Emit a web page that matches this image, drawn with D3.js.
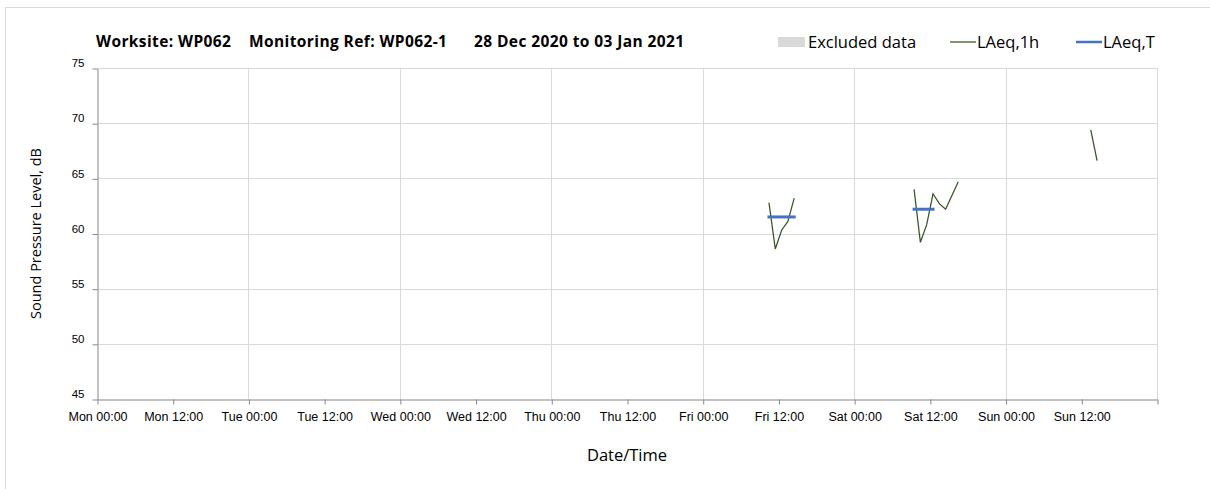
<!DOCTYPE html>
<html><head><meta charset="utf-8">
<script src="https://cdn.jsdelivr.net/npm/d3@7"></script>
<style>body{margin:0;background:#fff;} svg{display:block;font-family:"Open Sans",Lato,sans-serif;}</style>
</head><body>
<script>
// ---- data ----
const titleParts = ["Worksite: WP062", "Monitoring Ref: WP062-1", "28 Dec 2020 to 03 Jan 2021"];
const xDomain = ["2020-12-28T00:00Z", "2021-01-04T00:00Z"];
const yDomain = [45, 75];
const yTicks = [45, 50, 55, 60, 65, 70, 75];
// LAeq,1h segments (hourly, centred on half hour)
const fri1hTimes = ["2021-01-01T10:30Z","2021-01-01T11:30Z","2021-01-01T12:30Z","2021-01-01T13:30Z","2021-01-01T14:30Z"];
const fri1hValues = [62.8, 58.6, 60.3, 61.1, 63.2];
const sat1hTimes = ["2021-01-02T09:30Z","2021-01-02T10:30Z","2021-01-02T11:30Z","2021-01-02T12:30Z","2021-01-02T13:30Z","2021-01-02T14:30Z","2021-01-02T16:30Z"];
const sat1hValues = [64.0, 59.2, 60.8, 63.6, 62.7, 62.2, 64.7];
const sun1hTimes = ["2021-01-03T13:30Z","2021-01-03T14:30Z"];
const sun1hValues = [69.4, 66.6];
// LAeq,T periods
const laeqTStart = ["2021-01-01T10:30Z","2021-01-02T09:30Z"];
const laeqTEnd = ["2021-01-01T14:30Z","2021-01-02T12:30Z"];
const laeqTValues = [61.5, 62.2];
const legendLabels = ["Excluded data", "LAeq,1h", "LAeq,T"];

const W = 1210, H = 489;
const m = {left: 97, right: 53, top: 68, bottom: 90};
const svg = d3.select("body").append("svg").attr("width", W).attr("height", H);

// outer border
svg.append("rect").attr("x", 5.5).attr("y", 7.5).attr("width", 1230).attr("height", 520)
  .attr("fill", "none").attr("stroke", "#d9d9d9");

const x = d3.scaleUtc().domain(xDomain.map(d => new Date(d))).range([m.left, W - m.right]);
const y = d3.scaleLinear().domain(yDomain).range([H - m.bottom, m.top]);

const g = svg.append("g");
// gridlines
const dayTicks = x.ticks(d3.utcDay.every(1));
g.selectAll(".vg").data(dayTicks.slice(1)).join("line")
  .attr("x1", d => Math.round(x(d)) + 0.5).attr("x2", d => Math.round(x(d)) + 0.5)
  .attr("y1", m.top).attr("y2", H - m.bottom).attr("stroke", "#d9d9d9");
g.selectAll(".hg").data(yTicks.slice(1)).join("line")
  .attr("x1", m.left).attr("x2", W - m.right)
  .attr("y1", d => Math.round(y(d)) + 0.5).attr("y2", d => Math.round(y(d)) + 0.5).attr("stroke", "#d9d9d9");

// axes
const fmt = d3.utcFormat("%a %H:%M");
const xTicks = x.ticks(d3.utcHour.every(12));
const xAxis = d3.axisBottom(x).tickValues(xTicks).tickFormat((d, i) => i < xTicks.length - 1 ? fmt(d) : "").tickSize(5).tickSizeOuter(0);
const xa = svg.append("g").attr("transform", `translate(0.5,${Math.round(y(45)) + 0.5})`).call(xAxis);
xa.select(".domain").attr("stroke", "#868686");
xa.selectAll(".tick line").attr("stroke", "#868686");
xa.selectAll(".tick text").attr("fill", "#000").style("font-size", "12.5px").attr("y", 10).attr("dy", "0.9em");

const yAxis = d3.axisLeft(y).tickValues(yTicks).tickSize(5).tickSizeOuter(0);
const ya = svg.append("g").attr("transform", `translate(${m.left + 0.5},0.5)`).call(yAxis);
ya.select(".domain").attr("stroke", "#868686");
ya.selectAll(".tick line").attr("stroke", "#868686");
ya.selectAll(".tick text").attr("fill", "#000").style("font-size", "11.5px").attr("x", -13).attr("dy", "-0.15em");

// series
const line = d3.line().x(d => x(new Date(d[0]))).y(d => y(d[1]));
const segs = [[fri1hTimes, fri1hValues], [sat1hTimes, sat1hValues], [sun1hTimes, sun1hValues]];
segs.forEach(([t, v]) => {
  svg.append("path").datum(d3.zip(t, v)).attr("d", line)
    .attr("fill", "none").attr("stroke", "#375623").attr("stroke-width", 1.25);
});
svg.selectAll(".lt").data(laeqTValues).join("line")
  .attr("x1", (d, i) => x(new Date(laeqTStart[i]))).attr("x2", (d, i) => x(new Date(laeqTEnd[i])))
  .attr("y1", d => y(d)).attr("y2", d => y(d))
  .attr("stroke", "#4472C4").attr("stroke-width", 3).attr("stroke-linecap", "square");

// titles
const titleX = [96, 249, 474];
titleParts.forEach((t, i) => {
  svg.append("text").attr("x", titleX[i]).attr("y", 47).style("font-size", "15.5px").style("font-weight", "bold")
    .style("letter-spacing", "0.4px").text(t);
});
svg.append("text").attr("transform", `translate(41,${(m.top + H - m.bottom) / 2}) rotate(-90)`)
  .attr("text-anchor", "middle").style("font-size", "14.5px").text("Sound Pressure Level, dB");
svg.append("text").attr("x", (m.left + W - m.right) / 2).attr("y", 461).attr("text-anchor", "middle")
  .style("font-size", "16.5px").text("Date/Time");

// legend
const lg = svg.append("g").style("font-size", "16.5px");
lg.append("rect").attr("x", 778).attr("y", 37).attr("width", 27).attr("height", 10).attr("fill", "#d9d9d9");
lg.append("text").attr("x", 808).attr("y", 48).text(legendLabels[0]);
lg.append("line").attr("x1", 950).attr("x2", 976).attr("y1", 42).attr("y2", 42).attr("stroke", "#375623").attr("stroke-width", 1.25);
lg.append("text").attr("x", 977).attr("y", 48).text(legendLabels[1]);
lg.append("line").attr("x1", 1076).attr("x2", 1102).attr("y1", 42).attr("y2", 42).attr("stroke", "#4472C4").attr("stroke-width", 2.5);
lg.append("text").attr("x", 1103).attr("y", 48).text(legendLabels[2]);
</script>
</body></html>
